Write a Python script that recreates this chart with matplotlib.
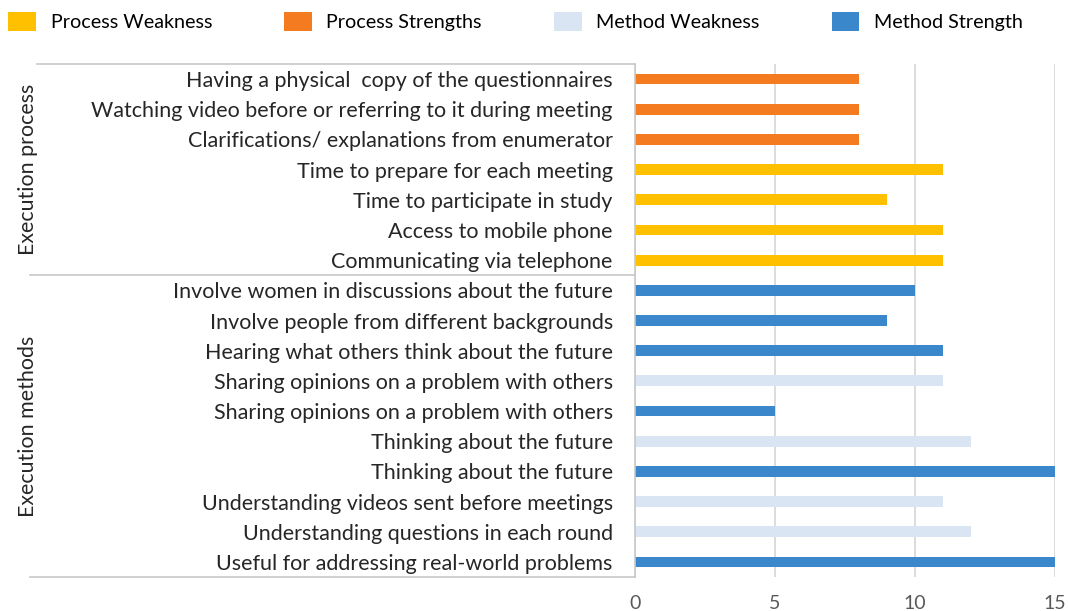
import matplotlib.pyplot as plt
from matplotlib.patches import Patch

# rows listed top to bottom as in the chart
labels = [
    "Having a physical  copy of the questionnaires",
    "Watching video before or referring to it during meeting",
    "Clarifications/ explanations from enumerator",
    "Time to prepare for each meeting",
    "Time to participate in study",
    "Access to mobile phone",
    "Communicating via telephone",
    "Involve women in discussions about the future",
    "Involve people from different backgrounds",
    "Hearing what others think about the future",
    "Sharing opinions on a problem with others",
    "Sharing opinions on a problem with others",
    "Thinking about the future",
    "Thinking about the future",
    "Understanding videos sent before meetings",
    "Understanding questions in each round",
    "Useful for addressing real-world problems",
]
values = [8, 8, 8, 11, 9, 11, 11, 10, 9, 11, 11, 5, 12, 15, 11, 12, 15]
kinds = ["PS", "PS", "PS", "PW", "PW", "PW", "PW",
         "MS", "MS", "MS", "MW", "MS", "MW", "MS", "MW", "MW", "MS"]
groups = ["Execution process", "Execution methods"]
group_sizes = [7, 10]

legend_names = {"PW": "Process Weakness", "PS": "Process Strengths",
                "MW": "Method Weakness", "MS": "Method Strength"}
colors = {"PW": "#FFC000", "PS": "#F47B20", "MW": "#DAE5F4", "MS": "#3A87CC"}

plt.rcParams["font.family"] = ["Lato", "DejaVu Sans"]

fig = plt.figure(figsize=(10.68, 6.11), dpi=100)
ax = fig.add_axes([0.5946, 0.0556, 0.3932, 0.8397])

n = len(labels)
ypos = list(range(n - 1, -1, -1))
ax.barh(ypos, values, height=0.36, color=[colors[k] for k in kinds])

ax.set_ylim(-0.5, n - 0.5)
ax.set_xlim(0, 15)
ax.set_xticks([0, 5, 10, 15])
ax.set_yticks(ypos)
ax.set_yticklabels(labels, fontsize=15.5, color="#262626")
ax.tick_params(axis="y", length=0, pad=16)
ax.tick_params(axis="x", length=0, pad=13, labelsize=14, labelcolor="#595959")
ax.grid(axis="x", color="#D6D6D6", linewidth=1.2)
ax.set_axisbelow(True)
for s in ["top", "right", "bottom"]:
    ax.spines[s].set_visible(False)
ax.spines["left"].set_color("#C8C8C8")
ax.spines["left"].set_linewidth(1.2)

# category group box lines and group labels
tr = ax.get_yaxis_transform()
ax.plot([-1.424, 0], [n - 0.5, n - 0.5], transform=tr, color="#C8C8C8",
        lw=1.2, clip_on=False)
edge = n - 0.5
for g, size in zip(groups, group_sizes):
    lo = edge - size
    ax.plot([-1.44, 0], [lo, lo], transform=tr, color="#C8C8C8",
            lw=1.2, clip_on=False)
    ax.text(-1.445, (edge + lo) / 2, g, transform=tr, rotation=90,
            ha="center", va="center", fontsize=15.4, color="#262626")
    edge = lo

handles = [Patch(facecolor=colors[k], label=legend_names[k])
           for k in ["PW", "PS", "MW", "MS"]]
fig.legend(handles=handles, loc="upper left", bbox_to_anchor=(-0.009, 1.01),
           ncol=4, frameon=False, fontsize=14.2, handlelength=1.4,
           handleheight=1.1, handletextpad=0.75, columnspacing=3.65)

fig.savefig("out.png", dpi=100)
